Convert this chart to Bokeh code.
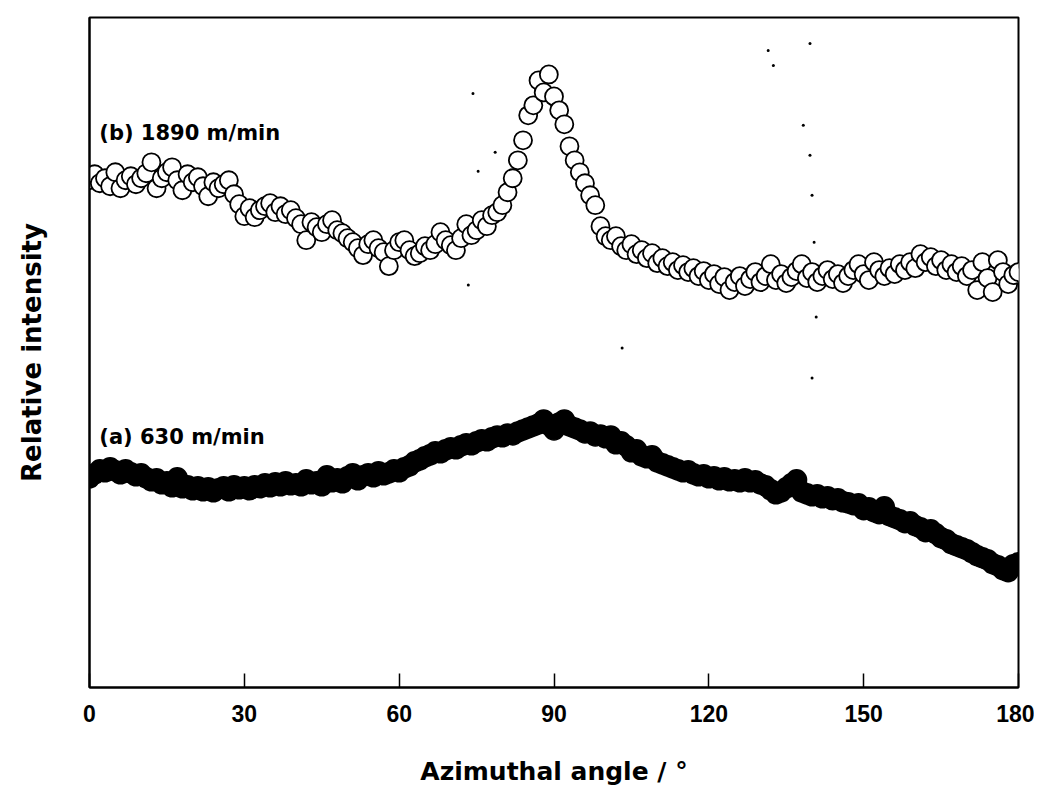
from bokeh.plotting import figure
from bokeh.models import Range1d, Label, FixedTicker
from bokeh.embed import file_html
from bokeh.resources import INLINE

# Azimuthal angle grid (deg), 1 degree step
angle = list(range(0, 181))

# (b) 1890 m/min - relative intensity (arbitrary units)
int_b = [508, 514, 505, 510, 502, 516, 500, 508, 512, 504,
         510, 515, 526, 500, 510, 516, 521, 508, 498, 514,
         506, 511, 502, 492, 506, 500, 504, 508, 494, 484,
         472, 480, 471, 478, 482, 485, 476, 482, 474, 478,
         470, 464, 448, 466, 461, 456, 464, 468, 458, 455,
         450, 446, 440, 433, 444, 448, 440, 436, 422, 438,
         446, 448, 438, 432, 435, 442, 438, 444, 456, 448,
         443, 438, 450, 464, 453, 458, 468, 462, 473, 476,
         483, 496, 510, 528, 548, 573, 583, 608, 596, 614,
         592, 578, 564, 542, 528, 516, 505, 493, 483, 462,
         452, 448, 452, 442, 438, 444, 434, 438, 430, 435,
         425, 430, 422, 426, 418, 423, 416, 420, 412, 417,
         408, 414, 404, 411, 398, 406, 412, 402, 409, 416,
         406, 412, 424, 408, 414, 405, 411, 417, 424, 410,
         416, 406, 412, 418, 409, 414, 405, 412, 418, 424,
         414, 408, 426, 418, 412, 420, 414, 424, 418, 426,
         420, 434, 426, 431, 422, 428, 418, 424, 416, 422,
         412, 418, 398, 426, 410, 396, 428, 416, 404, 413,
         416]

# (a) 630 m/min - relative intensity (arbitrary units)
int_a = [210, 214, 218, 216, 220, 217, 214, 218, 215, 212,
         214, 210, 207, 209, 204, 206, 201, 210, 200, 202,
         198, 201, 197, 200, 196, 199, 201, 197, 202, 199,
         201, 198, 202, 200, 204, 201, 205, 202, 206, 203,
         204, 202, 208, 204, 206, 202, 212, 206, 209, 205,
         211, 214, 208, 212, 214, 211, 216, 213, 215, 218,
         216, 220, 222, 226, 228, 231, 233, 236, 235, 238,
         240, 239, 242, 244, 243, 246, 248, 247, 250, 252,
         251, 254, 253, 256, 258, 260, 262, 264, 268, 263,
         258, 265, 268, 262, 260, 258, 255, 256, 252, 253,
         250, 252, 244, 246, 242, 236, 238, 232, 230, 232,
         226, 224, 222, 220, 218, 216, 217, 214, 212, 213,
         210, 211, 208, 210, 207, 208, 206, 209, 206, 207,
         204, 202, 198, 194, 196, 200, 204, 208, 196, 194,
         192, 193, 190, 191, 188, 189, 186, 185, 183, 184,
         178, 180, 176, 174, 181, 172, 170, 168, 165, 166,
         162, 160, 156, 158, 154, 150, 148, 144, 142, 140,
         138, 135, 132, 130, 128, 124, 122, 118, 116, 123,
         125]

# small stray specks visible in the scanned figure
speck_angle = [74.3, 78.6, 75.3, 73.4, 131.5, 132.5, 139.6, 138.3, 139.6, 140.0, 140.4, 140.8, 103.2, 140.0]
speck_int = [595, 536, 517, 403, 638, 623, 645, 563, 533, 493, 446, 371, 340, 310]

x_ticks = [0, 30, 60, 90, 120, 150, 180]

p = figure(width=1034, height=788, output_backend="svg", toolbar_location=None,
           x_range=Range1d(0, 180), y_range=Range1d(0, 671),
           min_border_left=89, min_border_right=16, min_border_top=17, min_border_bottom=100)

p.background_fill_color = "white"
p.border_fill_color = "white"
p.xgrid.visible = False
p.ygrid.visible = False
p.outline_line_color = "black"
p.outline_line_width = 2

# x axis
p.xaxis.ticker = FixedTicker(ticks=x_ticks)
p.xaxis.minor_tick_line_color = None
p.xaxis.major_tick_in = 14
p.xaxis.major_tick_out = 0
p.xaxis.major_tick_line_width = 1.5
p.xaxis.axis_line_width = 2
p.xaxis.major_label_standoff = 17
p.xaxis.major_label_text_font = "Liberation Sans"
p.xaxis.major_label_text_font_style = "bold"
p.xaxis.major_label_text_font_size = "23px"
p.xaxis.major_label_text_color = "black"
p.xaxis.axis_label = "Azimuthal angle / °"
p.xaxis.axis_label_text_font = "DejaVu Sans"
p.xaxis.axis_label_text_font_style = "bold"
p.xaxis.axis_label_text_font_size = "25px"
p.xaxis.axis_label_text_color = "black"
p.xaxis.axis_label_standoff = 32

# y axis
p.yaxis.ticker = FixedTicker(ticks=[])
p.yaxis.minor_tick_line_color = None
p.yaxis.major_tick_line_color = None
p.yaxis.axis_line_width = 2
p.yaxis.axis_label = "Relative intensity"
p.yaxis.axis_label_text_font = "DejaVu Sans"
p.yaxis.axis_label_text_font_style = "bold"
p.yaxis.axis_label_text_font_size = "26px"
p.yaxis.axis_label_text_color = "black"
p.yaxis.axis_label_standoff = 43

p.scatter(angle, int_a, marker="circle", size=20, fill_color="black", line_color="black", line_width=1.5)
p.scatter(angle, int_b, marker="circle", size=18, fill_color="white", line_color="black", line_width=1.8)
p.scatter(speck_angle, speck_int, marker="circle", size=3, fill_color="black", line_color=None)

p.add_layout(Label(x=1.9, y=555, text="(b) 1890 m/min", text_baseline="middle",
                   text_font="DejaVu Sans", text_font_style="bold", text_font_size="21px", text_color="black"))
p.add_layout(Label(x=1.9, y=251, text="(a) 630 m/min", text_baseline="middle",
                   text_font="DejaVu Sans", text_font_style="bold", text_font_size="21px", text_color="black"))

open("out.html", "w").write(file_html(p, INLINE))
